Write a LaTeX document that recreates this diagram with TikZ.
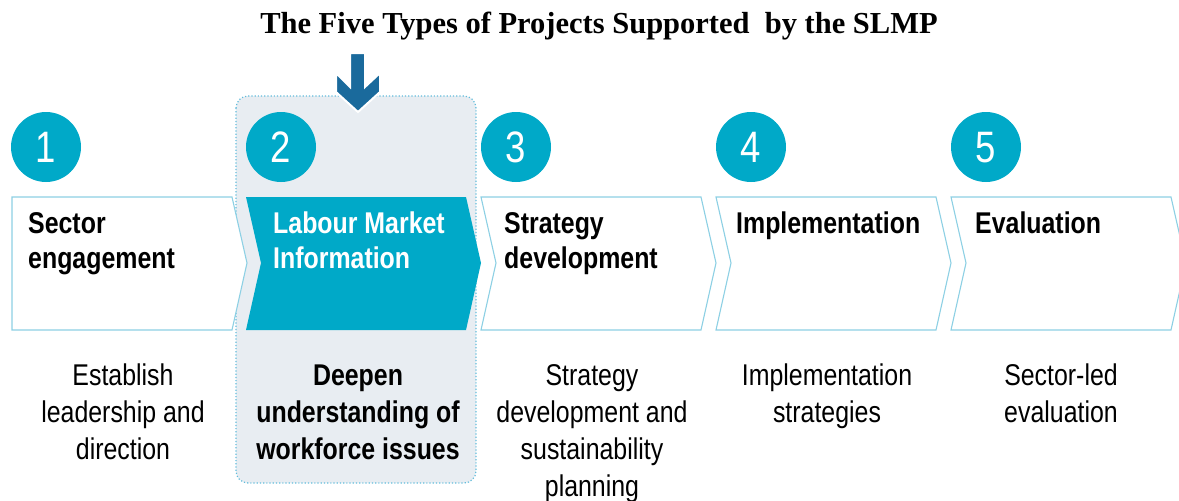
\documentclass[tikz,border=0pt]{standalone}
\usepackage{fontspec}
\newfontfamily\narrowsans[FakeStretch=0.83]{Liberation Sans}
\newfontfamily\titleserif{Liberation Serif}
\definecolor{slmpcyan}{HTML}{00A9C8}
\definecolor{slmpline}{HTML}{8DD0E4}
\definecolor{slmppanel}{HTML}{E8EDF2}
\definecolor{slmpdots}{HTML}{62BCDB}
\definecolor{slmparrow}{HTML}{1A6A9C}
\begin{document}
\begin{tikzpicture}[x=1pt,y=-1pt,
  stepshape/.style={draw=slmpline,line width=1.1pt,fill=white},
  stepactive/.style={fill=slmpcyan},
  numdisc/.style={fill=slmpcyan},
  numtext/.style={anchor=base,inner sep=0pt,text=white,font=\narrowsans\fontsize{44}{44}\selectfont},
  headtext/.style={anchor=base west,inner sep=0pt,align=left,font=\narrowsans\bfseries\fontsize{30}{35}\selectfont},
  desctext/.style={anchor=base,inner sep=0pt,align=center,font=\narrowsans\fontsize{30}{37}\selectfont},
  panel/.style={fill=slmppanel,draw=slmpdots,line width=1.2pt,dotted,rounded corners=12pt}]
\useasboundingbox (0,0) rectangle (1179,501);

% title
\node[anchor=base,inner sep=0pt] (title) at (599,33)
  {\titleserif\bfseries\fontsize{30.5}{32}\selectfont The Five Types of Projects Supported~ by the SLMP};

% highlighted column behind step 2
\draw[panel] (236,96) rectangle (476,483);

% pointer arrow
\filldraw[fill=slmparrow,draw=white,line width=2pt,line join=miter]
  (350,53) -- (365,53) -- (365,87) -- (380,73) -- (380,92) -- (358,112)
  -- (336,92) -- (336,73) -- (350,87) -- cycle;

% step chevrons
\draw[stepshape] (12,197) -- (232,197) -- (247,263) -- (232,330) -- (12,330) -- cycle;
\foreach \i in {2,...,5}{
  \pgfmathsetmacro{\L}{246+235*(\i-2)}
  \ifnum\i=2
    \fill[stepactive] (\L,197) -- (\L+220,197) -- (\L+235,263) -- (\L+220,330)
      -- (\L,330) -- (\L+15,263) -- cycle;
  \else
    \draw[stepshape] (\L,197) -- (\L+220,197) -- (\L+235,263) -- (\L+220,330)
      -- (\L,330) -- (\L+15,263) -- cycle;
  \fi
}

% numbered discs
\foreach \i in {1,...,5}{
  \fill[numdisc] (46+235*\i-235,147) circle (35);
  \node[numtext] (num\i) at (46+235*\i-235,162) {\i};
}

% step headings (anchored at the baseline of their last line)
\node[headtext] (head1) at (28,268) {Sector\\engagement};
\node[headtext,text=white] (head2) at (273,268) {Labour Market\\Information};
\node[headtext] (head3) at (504,268) {Strategy\\development};
\node[headtext] (head4) at (736,233) {Implementation};
\node[headtext] (head5) at (975,233) {Evaluation};

% step descriptions (anchored at the baseline of their last line)
\node[desctext] (desc1) at (123,459) {Establish\\leadership and\\direction};
\node[desctext,font=\narrowsans\bfseries\fontsize{30}{37}\selectfont] (desc2) at (358,459)
  {Deepen\\understanding of\\workforce issues};
\node[desctext] (desc3) at (592,496) {Strategy\\development and\\sustainability\\planning};
\node[desctext] (desc4) at (827,422) {Implementation\\strategies};
\node[desctext] (desc5) at (1061,422) {Sector-led\\evaluation};
\end{tikzpicture}
\end{document}
